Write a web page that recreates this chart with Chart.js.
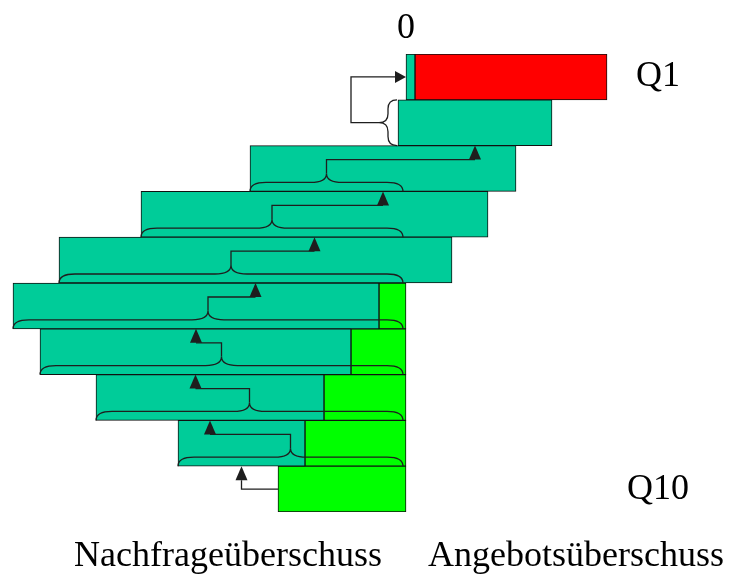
<!DOCTYPE html>
<html>
<head>
<meta charset="utf-8">
<script src="https://cdn.jsdelivr.net/npm/chart.js@4/dist/chart.umd.min.js"></script>
<style>
    body { margin: 0; background: #fff; }
    #wrap { width: 730px; height: 580px; position: relative; }
</style>
</head>
<body>
<div id="wrap"><canvas id="chart"></canvas></div>
<script>
// rows, top to bottom
const quantiles = ['Q1', 'Q2', 'Q3', 'Q4', 'Q5', 'Q6', 'Q7', 'Q8', 'Q9', 'Q10'];
// teal bars (start / end)
const tealFrom = [0, -8, -156, -265, -347, -393, -366, -310, -228, null];
const tealTo = [9, 146, 110, 82, 46, -27, -55, -82, -101, null];
// red bar (only Q1)
const redFrom = [9, null, null, null, null, null, null, null, null, null];
const redTo = [201, null, null, null, null, null, null, null, null, null];
// green bars, all ending at zero
const greenFrom = [null, null, null, null, null, -27, -55, -82, -101, -128];
const greenTo = [null, null, null, null, null, 0, 0, 0, 0, 0];
// axis texts
const topTicks = [0];
const bottomTicks = [-178, 170];
const bottomLabels = ['Nachfrageüberschuss', 'Angebotsüberschuss'];

const FONT = { family: "'Liberation Serif', 'Times New Roman', serif", size: 36 };
const LINE = '#1e1e1e';

function pairs(from, to) {
    return from.map((v, i) => (v === null ? null : [v, to[i]]));
}

// keep the long labels from squeezing the plot
function fixHeight(h) {
    return s => {
        s.height = h;
        s.paddingLeft = 0;
        s.paddingRight = 0;
    };
}

// braces under each row with an arrow up to the row above
const braceArrows = {
    id: 'braceArrows',
    afterDatasetsDraw(chart) {
        const { ctx, scales: { x, y } } = chart;
        const half = (y.getPixelForValue(1) - y.getPixelForValue(0)) / 2;
        const zero = x.getPixelForValue(0);
        ctx.save();
        ctx.strokeStyle = LINE;
        ctx.fillStyle = LINE;
        ctx.lineWidth = 1.3;

        const arrowUp = (tx, tipY) => {
            ctx.beginPath();
            ctx.moveTo(tx, tipY);
            ctx.lineTo(tx - 6, tipY + 14);
            ctx.lineTo(tx + 6, tipY + 14);
            ctx.closePath();
            ctx.fill();
        };

        for (let i = 1; i < quantiles.length; i++) {
            const mid = y.getPixelForValue(i);
            const top = mid - half;
            const bottom = mid + half;

            if (tealFrom[i] === null) {
                // no teal bar: line from green bar edge
                const gx = x.getPixelForValue(greenFrom[i]);
                const tx = x.getPixelForValue((tealFrom[i - 1] + tealTo[i - 1]) / 2);
                ctx.beginPath();
                ctx.moveTo(gx, mid);
                ctx.lineTo(tx, mid);
                ctx.lineTo(tx, top + 14);
                ctx.stroke();
                arrowUp(tx, top);
                continue;
            }

            const sx = x.getPixelForValue(tealFrom[i]);
            if (zero - sx < 30) {
                // vertical brace on the left of the row, arrow to the row above
                const xr = sx - 1, xl = xr - 9, r = 9;
                ctx.beginPath();
                ctx.moveTo(xr, top);
                ctx.quadraticCurveTo(xl, top, xl, top + r);
                ctx.lineTo(xl, mid - r);
                ctx.quadraticCurveTo(xl, mid, xl - r, mid);
                ctx.quadraticCurveTo(xl, mid, xl, mid + r);
                ctx.lineTo(xl, bottom - r);
                ctx.quadraticCurveTo(xl, bottom, xr, bottom);
                ctx.stroke();

                const upY = y.getPixelForValue(i - 1);
                const tx = x.getPixelForValue(tealFrom[i - 1]);
                const kx = xl - r - 28;
                ctx.beginPath();
                ctx.moveTo(xl - r, mid);
                ctx.lineTo(kx, mid);
                ctx.lineTo(kx, upY);
                ctx.lineTo(tx - 11, upY);
                ctx.stroke();
                ctx.beginPath();
                ctx.moveTo(tx, upY);
                ctx.lineTo(tx - 11, upY - 6);
                ctx.lineTo(tx - 11, upY + 6);
                ctx.closePath();
                ctx.fill();
                continue;
            }

            // horizontal brace along the bottom, from bar start to zero
            const x0 = sx, x1 = zero - 3, xm = (x0 + x1) / 2;
            const yl = bottom - 9, w = 16, r = 9;
            ctx.beginPath();
            ctx.moveTo(x0, bottom);
            ctx.quadraticCurveTo(x0, yl, x0 + w, yl);
            ctx.lineTo(xm - w, yl);
            ctx.quadraticCurveTo(xm, yl, xm, yl - r);
            ctx.quadraticCurveTo(xm, yl, xm + w, yl);
            ctx.lineTo(x1 - w, yl);
            ctx.quadraticCurveTo(x1, yl, x1, bottom);
            ctx.stroke();

            const tx = x.getPixelForValue((tealFrom[i - 1] + tealTo[i - 1]) / 2);
            ctx.beginPath();
            ctx.moveTo(xm, yl - r);
            ctx.lineTo(xm, top + 14);
            ctx.lineTo(tx, top + 14);
            ctx.stroke();
            arrowUp(tx, top);
        }
        ctx.restore();
    }
};

const barStyle = {
    borderColor: '#111',
    borderWidth: 1,
    borderSkipped: false,
    grouped: false,
    barPercentage: 1,
    categoryPercentage: 1
};

new Chart(document.getElementById('chart'), {
    type: 'bar',
    data: {
        labels: quantiles,
        datasets: [
            { label: 'teal', data: pairs(tealFrom, tealTo), backgroundColor: '#00CC99', ...barStyle },
            { label: 'red', data: pairs(redFrom, redTo), backgroundColor: '#FF0000', ...barStyle },
            { label: 'green', data: pairs(greenFrom, greenTo), backgroundColor: '#00FF00', ...barStyle }
        ]
    },
    options: {
        indexAxis: 'y',
        responsive: true,
        maintainAspectRatio: false,
        animation: false,
        layout: { padding: 0 },
        plugins: {
            legend: { display: false },
            tooltip: { enabled: false }
        },
        scales: {
            x: {
                type: 'linear',
                position: 'bottom',
                min: -406,
                max: 221,
                grid: { display: false, drawTicks: false },
                border: { display: false },
                afterBuildTicks: s => { s.ticks = bottomTicks.map(v => ({ value: v })); },
                afterFit: fixHeight(68),
                ticks: {
                    autoSkip: false,
                    maxRotation: 0,
                    minRotation: 0,
                    padding: 23,
                    color: '#000',
                    font: FONT,
                    callback: (v, i) => bottomLabels[i]
                }
            },
            x2: {
                type: 'linear',
                position: 'top',
                min: -406,
                max: 221,
                grid: { display: false, drawTicks: false },
                border: { display: false },
                afterBuildTicks: s => { s.ticks = topTicks.map(v => ({ value: v })); },
                afterFit: fixHeight(54),
                ticks: {
                    autoSkip: false,
                    maxRotation: 0,
                    padding: 4,
                    color: '#000',
                    font: FONT,
                    callback: v => String(v)
                }
            },
            y: {
                type: 'category',
                position: 'right',
                grid: { display: false, drawTicks: false },
                border: { display: false },
                afterFit: s => { s.width = 103; },
                ticks: {
                    autoSkip: false,
                    crossAlign: 'center',
                    padding: 0,
                    color: '#000',
                    font: FONT,
                    callback: (v, i) => (i === 0 || i === quantiles.length - 1) ? quantiles[i] : ''
                }
            }
        }
    },
    plugins: [braceArrows]
});
</script>
</body>
</html>
